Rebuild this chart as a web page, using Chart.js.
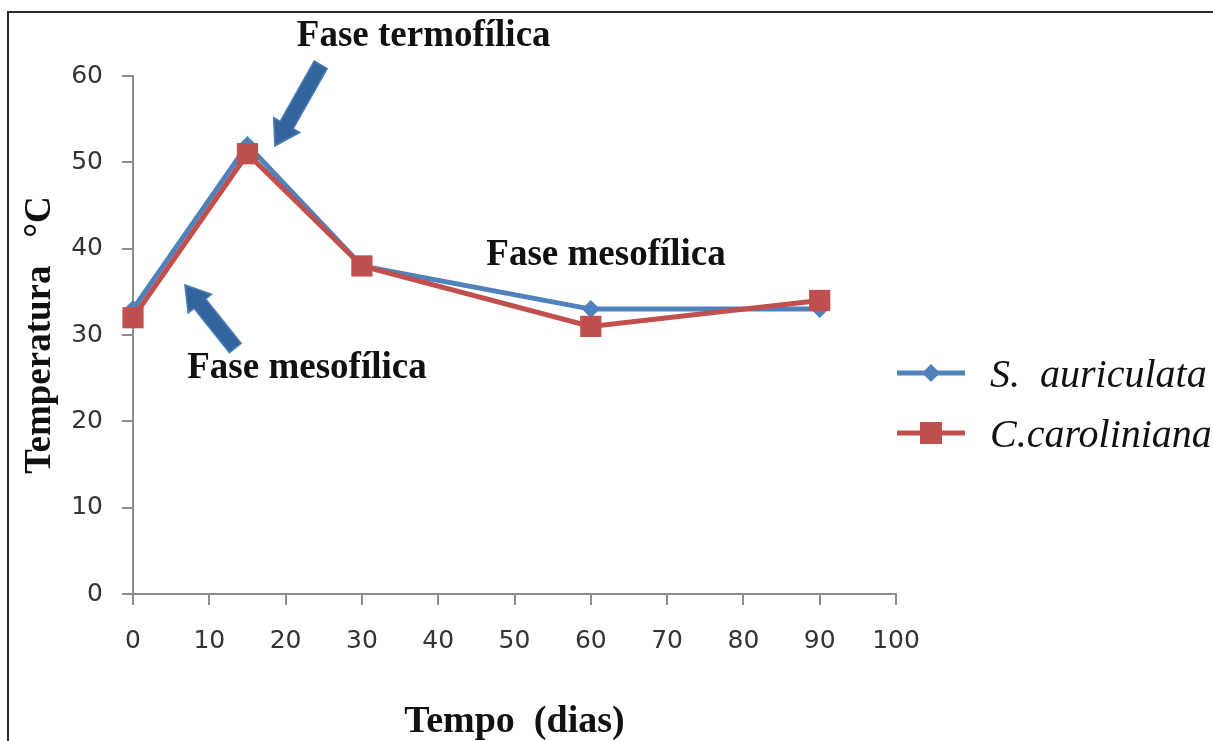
<!DOCTYPE html>
<html>
<head>
<meta charset="utf-8">
<script src="https://cdn.jsdelivr.net/npm/chart.js@4"></script>
<style>
  html, body { margin: 0; padding: 0; background: #fff; overflow: hidden; }
  #wrap { position: relative; width: 1213px; height: 741px; }
  #frame { position: absolute; left: 7px; top: 11px; width: 1240px; height: 780px; border: 2px solid #2b2b2b; box-sizing: border-box; }
  #myChart { position: absolute; left: 0; top: 0; }
</style>
</head>
<body>
<div id="wrap">
  <div id="frame"></div>
  <canvas id="myChart" width="1213" height="741"></canvas>
</div>
<script>
// days of composting and temperature readings (°C)
const days = [0, 15, 30, 60, 90];
const sAuriculata = [33, 52, 38, 33, 33];
const cCaroliniana = [32, 51, 38, 31, 34];
const seriesNames = ['S.  auriculata', 'C.caroliniana'];

// phase notes, placed in data units
const notes = [
  { text: 'Fase termofílica', x: 38.1, y: 63.5 },
  { text: 'Fase mesofílica', x: 62.0, y: 38.1 },
  { text: 'Fase mesofílica', x: 22.8, y: 25.0 }
];
const arrows = [
  { from: [24.6, 61.3], to: [18.6, 51.9] },
  { from: [13.4, 28.5], to: [6.8, 35.8] }
];

const blue = '#4F81BD';
const red = '#C0504D';

function drawArrow(ctx, x1, y1, x2, y2) {
  const dx = x2 - x1, dy = y2 - y1;
  const len = Math.sqrt(dx * dx + dy * dy);
  const ux = dx / len, uy = dy / len;
  const nx = -uy, ny = ux;
  const shaft = 7.5, head = 15, headLen = 24;
  const bx = x2 - ux * headLen, by = y2 - uy * headLen;
  ctx.beginPath();
  ctx.moveTo(x1 + nx * shaft, y1 + ny * shaft);
  ctx.lineTo(bx + nx * shaft, by + ny * shaft);
  ctx.lineTo(bx + nx * head, by + ny * head);
  ctx.lineTo(x2, y2);
  ctx.lineTo(bx - nx * head, by - ny * head);
  ctx.lineTo(bx - nx * shaft, by - ny * shaft);
  ctx.lineTo(x1 - nx * shaft, y1 - ny * shaft);
  ctx.closePath();
  ctx.fillStyle = '#34649E';
  ctx.fill();
  ctx.strokeStyle = '#4A7DB8';
  ctx.lineWidth = 1.5;
  ctx.stroke();
}

const phaseNotes = {
  id: 'phaseNotes',
  afterDraw(chart) {
    const { ctx } = chart;
    const x = chart.scales.x, y = chart.scales.y;
    ctx.save();
    arrows.forEach(a => {
      drawArrow(ctx,
        x.getPixelForValue(a.from[0]), y.getPixelForValue(a.from[1]),
        x.getPixelForValue(a.to[0]), y.getPixelForValue(a.to[1]));
    });
    ctx.font = 'bold 37px "Liberation Serif"';
    ctx.fillStyle = '#111';
    ctx.textAlign = 'center';
    ctx.textBaseline = 'alphabetic';
    notes.forEach(n => {
      ctx.fillText(n.text, x.getPixelForValue(n.x), y.getPixelForValue(n.y));
    });

    // legend on the right: line with marker, then italic name
    const lx = chart.chartArea.right + 1;
    const rowY = [373, 433];
    chart.data.datasets.forEach((ds, i) => {
      const cy = rowY[i];
      ctx.strokeStyle = ds.borderColor;
      ctx.lineWidth = 5;
      ctx.beginPath();
      ctx.moveTo(lx, cy);
      ctx.lineTo(lx + 68, cy);
      ctx.stroke();
      ctx.fillStyle = ds.borderColor;
      const mx = lx + 34;
      if (ds.pointStyle === 'rectRot') {
        ctx.beginPath();
        ctx.moveTo(mx, cy - 9);
        ctx.lineTo(mx + 9, cy);
        ctx.lineTo(mx, cy + 9);
        ctx.lineTo(mx - 9, cy);
        ctx.closePath();
        ctx.fill();
      } else {
        ctx.fillRect(mx - 11, cy - 11, 22, 22);
      }
      ctx.fillStyle = '#111';
      ctx.font = 'italic 40px "Liberation Serif"';
      ctx.textAlign = 'left';
      ctx.fillText(ds.label, lx + 93, cy + 14);
    });
    ctx.restore();
  }
};

const tickFont = { family: '"DejaVu Sans"', size: 25 };
const axisGrid = { drawOnChartArea: false, drawTicks: true, tickLength: 11, color: '#8c8c8c', lineWidth: 2 };

const config = {
  type: 'line',
  data: {
    datasets: [
      {
        label: seriesNames[0],
        data: days.map((d, i) => ({ x: d, y: sAuriculata[i] })),
        borderColor: blue,
        backgroundColor: blue,
        borderWidth: 5,
        pointStyle: 'rectRot',
        pointRadius: 9,
        pointBorderWidth: 0,
        tension: 0,
        clip: false,
        order: 1
      },
      {
        label: seriesNames[1],
        data: days.map((d, i) => ({ x: d, y: cCaroliniana[i] })),
        borderColor: red,
        backgroundColor: red,
        borderWidth: 5,
        pointStyle: 'rect',
        pointRadius: 15,
        pointBorderWidth: 0,
        tension: 0,
        clip: false,
        order: 0
      }
    ]
  },
  options: {
    responsive: false,
    animation: false,
    layout: { padding: { left: 22, top: 76, right: 317, bottom: 0 } },
    plugins: {
      legend: { display: false },
      tooltip: { enabled: false }
    },
    scales: {
      x: {
        type: 'linear',
        min: 0,
        max: 100,
        ticks: { stepSize: 10, color: '#333', font: tickFont, padding: 21 },
        grid: axisGrid,
        border: { color: '#8c8c8c', width: 2 },
        title: {
          display: true,
          text: 'Tempo  (dias)',
          color: '#111',
          font: { family: '"Liberation Serif"', size: 38, weight: 'bold', lineHeight: 1 },
          padding: { top: 0, bottom: 0 }
        },
        afterFit(scale) {
          scale.height = 147;
          scale.paddingLeft = 0;
          scale.paddingRight = 0;
        }
      },
      y: {
        min: 0,
        max: 60,
        ticks: { stepSize: 10, color: '#333', font: tickFont, padding: 19 },
        grid: axisGrid,
        border: { color: '#8c8c8c', width: 2 },
        title: {
          display: true,
          text: 'Temperatura   °C',
          color: '#111',
          font: { family: '"Liberation Serif"', size: 37, weight: 'bold', lineHeight: 1 },
          padding: { top: 0, bottom: 0 }
        },
        afterFit(scale) {
          scale.width = 111;
          scale.paddingTop = 0;
          scale.paddingBottom = 0;
        }
      }
    }
  },
  plugins: [phaseNotes]
};

const ctx = document.getElementById('myChart').getContext('2d');
new Chart(ctx, config);
</script>
</body>
</html>
